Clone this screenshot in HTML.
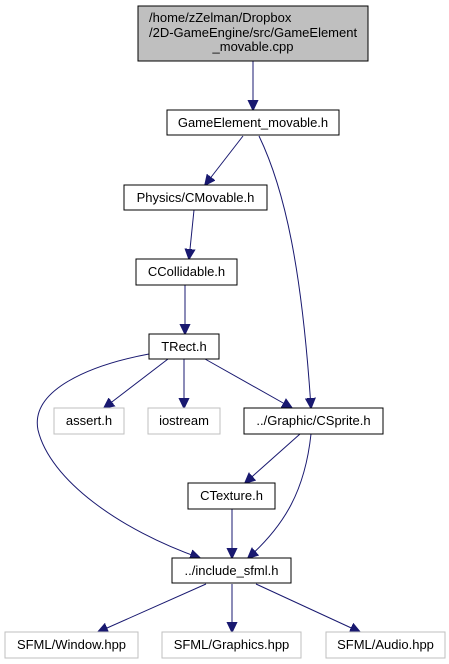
<!DOCTYPE html>
<html><head><meta charset="utf-8"><style>
html,body{margin:0;padding:0;background:#fff;}
svg{display:block;font-family:"Liberation Sans",Arial,sans-serif;}
</style></head><body>
<svg width="449" height="664" viewBox="0 0 449 664">
<defs>
<marker id="ah" markerWidth="11" markerHeight="11" refX="10" refY="5.5" orient="auto" markerUnits="userSpaceOnUse">
<path d="M0,0.5 L10.5,5.5 L0,10.5 Z" fill="#191970" stroke="#191970"/>
</marker>
</defs>
<g fill="none" stroke="#191970" stroke-width="1" marker-end="url(#ah)">
<path d="M253,61 L253,110"/>
<path d="M243,136 L205,185"/>
<path d="M259,136 C285,190 302,270 311,408"/>
<path d="M194,210 L189,259"/>
<path d="M185,285 L185,334"/>
<path d="M168,359 L104,408"/>
<path d="M184,359 L184,408"/>
<path d="M205,359 L292,408"/>
<path d="M149,354 C90,365 30,390 38,430 C50,480 120,530 200,558"/>
<path d="M300,434 L245,483"/>
<path d="M311,434 C305,490 285,525 248,558"/>
<path d="M232,509 L232,558"/>
<path d="M206,584 L98,632"/>
<path d="M232,584 L232,632"/>
<path d="M256,584 L360,632"/>
</g>
<g font-size="13" text-anchor="middle" fill="#000">
<g>
<rect x="138" y="6" width="230" height="55" fill="#bfbfbf" stroke="#000"/>
<text x="149" y="22" text-anchor="start">/home/zZelman/Dropbox</text>
<text x="149" y="37" text-anchor="start">/2D-GameEngine/src/GameElement</text>
<text x="253" y="51">_movable.cpp</text>
</g>
<g><rect x="167" y="110" width="172" height="25" fill="#fff" stroke="#000"/><text x="253" y="127">GameElement_movable.h</text></g>
<g><rect x="124" y="185" width="143" height="25" fill="#fff" stroke="#000"/><text x="195.5" y="202">Physics/CMovable.h</text></g>
<g><rect x="136" y="259" width="101" height="26" fill="#fff" stroke="#000"/><text x="186.5" y="276">CCollidable.h</text></g>
<g><rect x="149" y="334" width="70" height="25" fill="#fff" stroke="#000"/><text x="184" y="351">TRect.h</text></g>
<g><rect x="54" y="408" width="70" height="26" fill="#fff" stroke="#bfbfbf"/><text x="89" y="425">assert.h</text></g>
<g><rect x="148" y="408" width="72" height="26" fill="#fff" stroke="#bfbfbf"/><text x="184" y="425">iostream</text></g>
<g><rect x="244" y="408" width="139" height="26" fill="#fff" stroke="#000"/><text x="313.5" y="425">../Graphic/CSprite.h</text></g>
<g><rect x="188" y="483" width="87" height="26" fill="#fff" stroke="#000"/><text x="231.5" y="500">CTexture.h</text></g>
<g><rect x="172" y="558" width="119" height="25" fill="#fff" stroke="#000"/><text x="231.5" y="575">../include_sfml.h</text></g>
<g><rect x="5" y="632" width="133" height="26" fill="#fff" stroke="#bfbfbf"/><text x="71.5" y="649">SFML/Window.hpp</text></g>
<g><rect x="162" y="632" width="139" height="26" fill="#fff" stroke="#bfbfbf"/><text x="231.5" y="649">SFML/Graphics.hpp</text></g>
<g><rect x="326" y="632" width="119" height="26" fill="#fff" stroke="#bfbfbf"/><text x="385.5" y="649">SFML/Audio.hpp</text></g>
</g>
</svg>
</body></html>
